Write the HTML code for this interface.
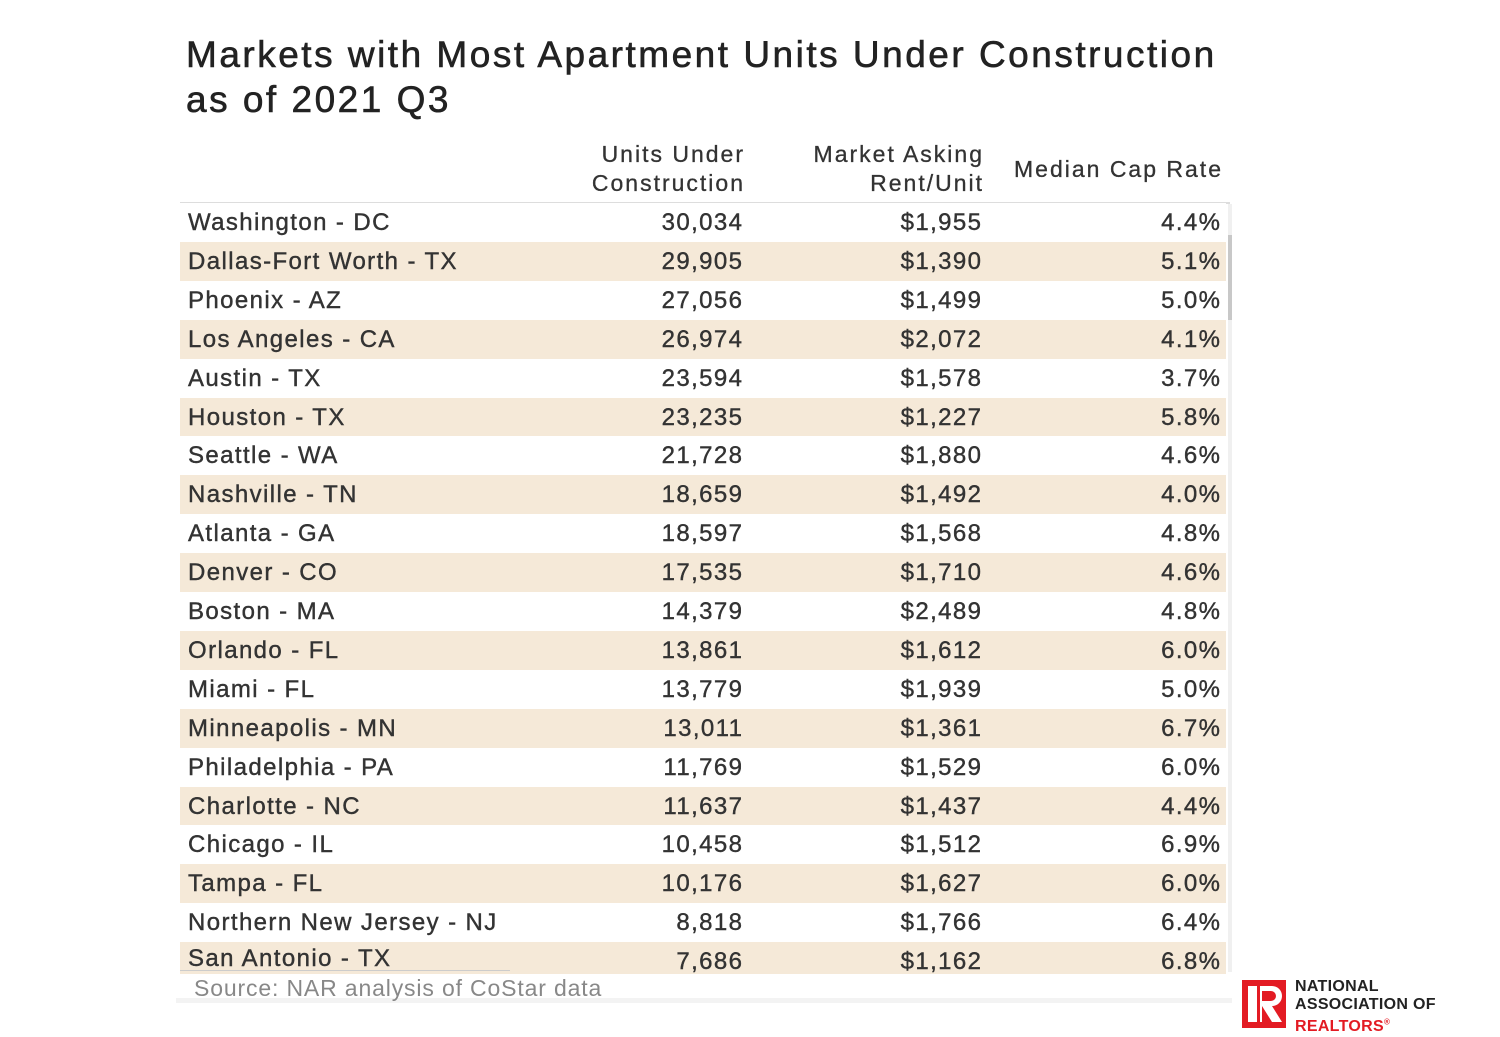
<!DOCTYPE html>
<html><head><meta charset="utf-8"><style>
body{margin:0;width:1500px;height:1037px;background:#fff;font-family:"Liberation Sans",sans-serif;color:#333;position:relative;overflow:hidden}
.t{position:absolute;white-space:nowrap}
.title{left:186px;top:32px;font-size:37px;line-height:45px;color:#222;letter-spacing:2.5px;-webkit-text-stroke:0.6px #222}
.hdr{font-size:23px;line-height:29px;text-align:right;color:#333;letter-spacing:2px;margin-right:-2px;-webkit-text-stroke:0.3px #333}
.row{position:absolute;left:180px;width:1046px}
.cell{position:absolute;font-size:24px;white-space:nowrap;color:#333;letter-spacing:1.4px;-webkit-text-stroke:0.4px #333}
.num{margin-right:-1.4px}
</style></head><body>
<div class="t title">Markets with Most Apartment Units Under Construction<br>as of 2021 Q3</div>
<div class="t hdr" style="right:757px;top:140px">Units Under<br>Construction</div>
<div class="t hdr" style="right:518px;top:140px">Market Asking<br>Rent/Unit</div>
<div class="t hdr" style="right:279px;top:155px">Median Cap Rate</div>
<div style="position:absolute;left:180px;top:202px;width:1050px;height:2px;background:#ddd"></div>
<div style="position:absolute;left:1228px;top:204px;width:4px;height:768px;background:#f0f0f0"></div>
<div style="position:absolute;left:1228px;top:235px;width:4px;height:85px;background:#c8c8c8"></div>
<div id="tbl"></div>
<div style="position:absolute;left:180px;top:970px;width:330px;height:1px;background:#ccc"></div>
<div style="position:absolute;left:176px;top:998px;width:1056px;height:5px;background:#f3f3f3"></div>
<div class="t" style="left:194px;top:975px;font-size:23px;color:#888;letter-spacing:0.85px">Source: NAR analysis of CoStar data</div>
<svg style="position:absolute;left:1242px;top:980px" width="46" height="50">
<rect x="0" y="0" width="44" height="48" fill="#e31b23"/>
<rect x="6" y="6" width="9" height="36" fill="#fff"/>
<path d="M18 6 H30 A10 10 0 0 1 30 26 L40 42 H30 L20 26 V42 H18 Z" fill="#fff"/>
<path d="M20 11 H29 A5 5 0 0 1 29 21 H20 Z" fill="#e31b23"/>
</svg>
<div class="t" style="left:1295px;top:978px;font-size:16px;line-height:18px;font-weight:bold;color:#222;letter-spacing:0.3px">NATIONAL<br>ASSOCIATION OF<br><span style="color:#e31b23">REALTORS<sup style="font-size:8px">®</sup></span></div>
<script>
const markets=["Washington - DC","Dallas-Fort Worth - TX","Phoenix - AZ","Los Angeles - CA","Austin - TX","Houston - TX","Seattle - WA","Nashville - TN","Atlanta - GA","Denver - CO","Boston - MA","Orlando - FL","Miami - FL","Minneapolis - MN","Philadelphia - PA","Charlotte - NC","Chicago - IL","Tampa - FL","Northern New Jersey - NJ","San Antonio - TX"];
const units=[30034,29905,27056,26974,23594,23235,21728,18659,18597,17535,14379,13861,13779,13011,11769,11637,10458,10176,8818,7686];
const rents=[1955,1390,1499,2072,1578,1227,1880,1492,1568,1710,2489,1612,1939,1361,1529,1437,1512,1627,1766,1162];
const caps=[4.4,5.1,5.0,4.1,3.7,5.8,4.6,4.0,4.8,4.6,4.8,6.0,5.0,6.7,6.0,4.4,6.9,6.0,6.4,6.8];
const tbl=document.getElementById('tbl');
const rowH=38.9, top0=203;
markets.forEach((m,i)=>{
  const r=document.createElement('div');
  
  
  r.className='row';
  const last=i===markets.length-1;
  r.style.top=(top0+i*rowH)+'px';
  r.style.height=(last?32:rowH)+'px';
  r.style.background=i%2?'#f5e9d8':'#fff';
  const ty=last?3:6;
  const ny=6;
  const c1=document.createElement('div');
  
  
  c1.className='cell';c1.style.left='8px';c1.style.top=ty+'px';c1.textContent=m;
  const c2=document.createElement('div');
  
  
  c2.className='cell num';c2.style.right=(1226-742)+'px';c2.style.top=ny+'px';c2.textContent=units[i].toLocaleString('en-US');
  const c3=document.createElement('div');
  
  
  c3.className='cell num';c3.style.right=(1226-981)+'px';c3.style.top=ny+'px';c3.textContent='$'+rents[i].toLocaleString('en-US');
  const c4=document.createElement('div');
  
  
  c4.className='cell num';c4.style.right=(1226-1220)+'px';c4.style.top=ny+'px';c4.textContent=caps[i].toFixed(1)+'%';
  r.append(c1,c2,c3,c4);
  tbl.appendChild(r);
});
</script>
</body></html>
